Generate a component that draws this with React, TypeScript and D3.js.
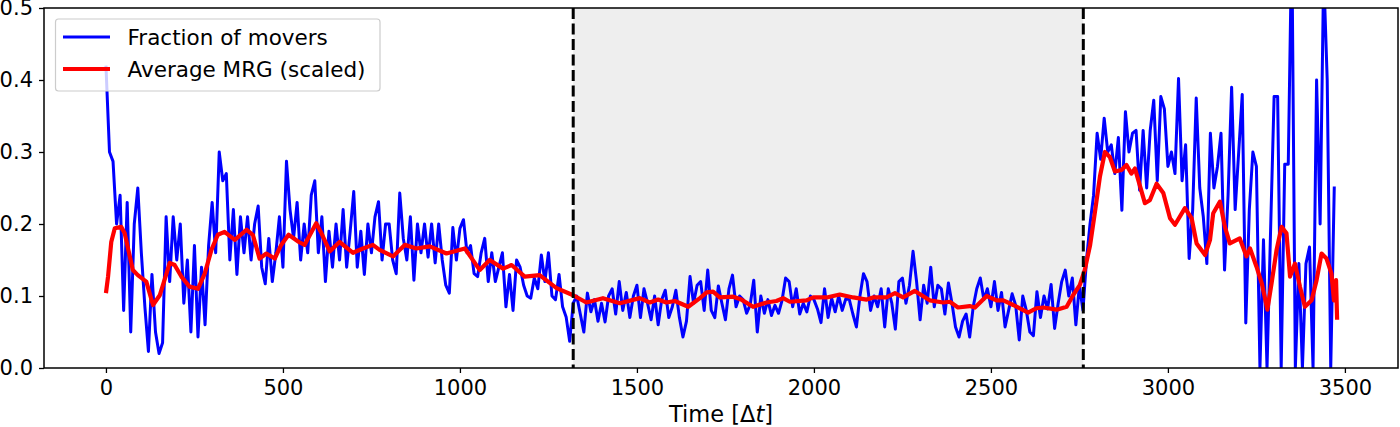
import React, { useEffect, useRef } from 'react';
import * as d3 from 'd3';

// fraction of movers, one value every 10 time steps
const moverStep = 10;
const movers: number[] = [
  0.42, 0.30, 0.287, 0.20, 0.24, 0.08, 0.23, 0.05, 0.20, 0.25,
  0.16, 0.085, 0.023, 0.13, 0.05, 0.02, 0.035, 0.21, 0.12, 0.21,
  0.15, 0.20, 0.09, 0.15, 0.05, 0.17, 0.043, 0.14, 0.06, 0.17,
  0.23, 0.16, 0.30, 0.26, 0.27, 0.15, 0.22, 0.13, 0.21, 0.16,
  0.21, 0.15, 0.20, 0.225, 0.14, 0.117, 0.18, 0.12, 0.16, 0.21,
  0.14, 0.287, 0.22, 0.18, 0.23, 0.15, 0.20, 0.16, 0.24, 0.26,
  0.16, 0.21, 0.12, 0.19, 0.14, 0.20, 0.15, 0.22, 0.14, 0.19,
  0.245, 0.14, 0.19, 0.13, 0.20, 0.16, 0.21, 0.231, 0.15, 0.20,
  0.20, 0.15, 0.131, 0.243, 0.18, 0.15, 0.21, 0.122, 0.20, 0.16,
  0.20, 0.154, 0.20, 0.146, 0.20, 0.15, 0.115, 0.104, 0.195, 0.15,
  0.194, 0.206, 0.16, 0.17, 0.131, 0.127, 0.16, 0.18, 0.12, 0.16,
  0.12, 0.14, 0.16, 0.085, 0.13, 0.08, 0.15, 0.14, 0.115, 0.10,
  0.097, 0.125, 0.11, 0.157, 0.12, 0.16, 0.10, 0.095, 0.13, 0.085,
  0.071, 0.037, 0.09, 0.10, 0.075, 0.05, 0.104, 0.078, 0.095, 0.065,
  0.09, 0.064, 0.10, 0.11, 0.075, 0.12, 0.08, 0.105, 0.07, 0.10,
  0.115, 0.07, 0.11, 0.09, 0.067, 0.10, 0.06, 0.095, 0.108, 0.07,
  0.085, 0.108, 0.07, 0.043, 0.065, 0.127, 0.09, 0.115, 0.12, 0.08,
  0.136, 0.08, 0.07, 0.114, 0.09, 0.067, 0.11, 0.129, 0.085, 0.10,
  0.095, 0.076, 0.088, 0.122, 0.05, 0.10, 0.076, 0.095, 0.073, 0.087,
  0.076, 0.094, 0.125, 0.12, 0.085, 0.11, 0.075, 0.09, 0.078, 0.10,
  0.095, 0.082, 0.063, 0.11, 0.07, 0.097, 0.078, 0.10, 0.08, 0.096,
  0.095, 0.075, 0.057, 0.10, 0.131, 0.12, 0.08, 0.10, 0.085, 0.11,
  0.057, 0.11, 0.09, 0.054, 0.12, 0.125, 0.09, 0.115, 0.162, 0.12,
  0.067, 0.115, 0.09, 0.14, 0.085, 0.115, 0.11, 0.075, 0.118, 0.09,
  0.057, 0.043, 0.065, 0.075, 0.043, 0.085, 0.11, 0.125, 0.095, 0.11,
  0.085, 0.12, 0.08, 0.105, 0.057, 0.08, 0.103, 0.087, 0.039, 0.10,
  0.08, 0.05, 0.045, 0.106, 0.07, 0.10, 0.082, 0.116, 0.055, 0.09,
  0.12, 0.136, 0.10, 0.125, 0.06, 0.115, 0.08, 0.15, 0.20, 0.24,
  0.326, 0.29, 0.347, 0.30, 0.31, 0.27, 0.32, 0.219, 0.356, 0.30,
  0.326, 0.33, 0.247, 0.33, 0.25, 0.33, 0.372, 0.26, 0.377, 0.36,
  0.28, 0.30, 0.27, 0.402, 0.26, 0.31, 0.152, 0.22, 0.375, 0.25,
  0.21, 0.145, 0.326, 0.25, 0.28, 0.326, 0.136, 0.24, 0.39, 0.22,
  0.30, 0.38, 0.0625, 0.22, 0.30, 0.28, 0.0, 0.178, 0.0, 0.19,
  0.377, 0.377, 0.0, 0.283, 0.283, 0.6, 0.0, 0.145, 0.0, 0.145,
  0.168, 0.0, 0.40, 0.20, 0.55, 0.40, 0.0, 0.252,
];

// average MRG (scaled), smooth curve
const mrgTime: number[] = [
  0, 6, 15, 25, 43, 53, 76, 90, 114, 133, 152, 171, 180, 194, 213, 236, 260, 279, 298, 316,
  335, 364, 397, 415, 434, 453, 477, 494, 516, 545, 561, 594, 609, 632, 660, 698, 726, 754, 773, 811,
  844, 877, 915, 962, 1014, 1056, 1084, 1122, 1146, 1183, 1225, 1273, 1320, 1357, 1404, 1452, 1508, 1536, 1560, 1583,
  1607, 1645, 1678, 1697, 1715, 1734, 1772, 1795, 1828, 1866, 1894, 1913, 1932, 1979, 1998, 2036, 2073, 2111, 2149, 2167,
  2205, 2229, 2252, 2285, 2327, 2365, 2384, 2407, 2440, 2455, 2488, 2516, 2535, 2563, 2605, 2629, 2648, 2686, 2714, 2732,
  2751, 2765, 2780, 2794, 2808, 2822, 2836, 2850, 2869, 2883, 2897, 2907, 2935, 2949, 2968, 2987, 3006, 3020, 3048, 3067,
  3081, 3105, 3119, 3128, 3147, 3161, 3175, 3203, 3222, 3232, 3250, 3265, 3281, 3293, 3307, 3321, 3335, 3345, 3359, 3373,
  3387, 3406, 3420, 3434, 3448, 3462, 3469, 3475, 3478,
];
const mrgValue: number[] = [
  0.104, 0.127, 0.175, 0.194, 0.196, 0.187, 0.136, 0.129, 0.12, 0.0875, 0.101, 0.131, 0.146, 0.143, 0.127, 0.113, 0.110, 0.131, 0.164, 0.185,
  0.189, 0.178, 0.192, 0.185, 0.152, 0.159, 0.152, 0.170, 0.185, 0.175, 0.171, 0.201, 0.187, 0.162, 0.175, 0.160, 0.166, 0.171, 0.164, 0.155,
  0.171, 0.166, 0.169, 0.159, 0.166, 0.136, 0.150, 0.138, 0.143, 0.127, 0.129, 0.111, 0.101, 0.091, 0.097, 0.090, 0.097, 0.091, 0.095, 0.091,
  0.093, 0.085, 0.097, 0.105, 0.106, 0.098, 0.099, 0.095, 0.085, 0.091, 0.093, 0.097, 0.092, 0.094, 0.098, 0.098, 0.102, 0.098, 0.095, 0.098,
  0.098, 0.104, 0.098, 0.107, 0.094, 0.091, 0.092, 0.084, 0.086, 0.084, 0.100, 0.094, 0.094, 0.0875, 0.077, 0.083, 0.084, 0.081, 0.085, 0.101,
  0.115, 0.136, 0.170, 0.217, 0.266, 0.300, 0.293, 0.273, 0.275, 0.282, 0.270, 0.277, 0.229, 0.233, 0.256, 0.243, 0.208, 0.199, 0.222, 0.208,
  0.173, 0.157, 0.178, 0.215, 0.231, 0.196, 0.173, 0.180, 0.155, 0.166, 0.141, 0.118, 0.081, 0.118, 0.164, 0.196, 0.187, 0.127, 0.145, 0.113,
  0.085, 0.094, 0.122, 0.159, 0.152, 0.131, 0.094, 0.122, 0.067,
];

const shadedWindow = [1320, 2761];
const xTicks = [0, 500, 1000, 1500, 2000, 2500, 3000, 3500];
const yTicks = [0, 0.1, 0.2, 0.3, 0.4, 0.5];
const legendLabels = ['Fraction of movers', 'Average MRG (scaled)'];
const legendColors = ['#0000ff', '#ff0000'];

const FONT = 'DejaVu Sans, sans-serif';

function MoversChart() {
  const svgRef = useRef<SVGSVGElement>(null);

  useEffect(() => {
    const svg = d3.select(svgRef.current);
    svg.selectAll('*').remove();

    const width = 1400;
    const height = 427;
    const margin = { top: 8, right: 2, bottom: 59, left: 44 };

    svg.attr('width', width).attr('height', height);

    const x = d3.scaleLinear()
      .domain([-175, 3650])
      .range([margin.left, width - margin.right]);
    const y = d3.scaleLinear()
      .domain([0, 0.5])
      .range([height - margin.bottom, margin.top]);

    svg.append('defs').append('clipPath').attr('id', 'plot-clip')
      .append('rect')
      .attr('x', margin.left).attr('y', margin.top)
      .attr('width', width - margin.left - margin.right)
      .attr('height', height - margin.top - margin.bottom);

    const plot = svg.append('g').attr('clip-path', 'url(#plot-clip)');

    plot.append('rect')
      .attr('x', x(shadedWindow[0]))
      .attr('y', margin.top)
      .attr('width', x(shadedWindow[1]) - x(shadedWindow[0]))
      .attr('height', height - margin.top - margin.bottom)
      .attr('fill', '#eeeeee');

    const line = d3.line<[number, number]>()
      .x((d) => x(d[0]))
      .y((d) => y(d[1]));

    const moverPts: [number, number][] = movers.map((v, i) => [i * moverStep, v]);
    const mrgPts: [number, number][] = mrgTime.map((t, i) => [t, mrgValue[i]]);

    plot.append('path')
      .attr('d', line(moverPts))
      .attr('fill', 'none')
      .attr('stroke', legendColors[0])
      .attr('stroke-width', 3)
      .attr('stroke-linejoin', 'round');

    plot.append('path')
      .attr('d', line(mrgPts))
      .attr('fill', 'none')
      .attr('stroke', legendColors[1])
      .attr('stroke-width', 4.2)
      .attr('stroke-linejoin', 'round');

    shadedWindow.forEach((t) => {
      plot.append('line')
        .attr('x1', x(t)).attr('x2', x(t))
        .attr('y1', margin.top).attr('y2', height - margin.bottom)
        .attr('stroke', '#000')
        .attr('stroke-width', 3)
        .attr('stroke-dasharray', '11,4.5');
    });

    // axes
    const xAxis = svg.append('g')
      .attr('transform', `translate(0,${height - margin.bottom})`)
      .call(d3.axisBottom(x).tickValues(xTicks).tickSize(5).tickPadding(7).tickFormat(d3.format('d')));
    const yAxis = svg.append('g')
      .attr('transform', `translate(${margin.left},0)`)
      .call(d3.axisLeft(y).tickValues(yTicks).tickSize(5).tickPadding(6).tickFormat(d3.format('.1f')));

    [xAxis, yAxis].forEach((g) => {
      g.select('.domain').remove();
      g.selectAll('line').attr('stroke', '#000').attr('stroke-width', 1.3);
      g.selectAll('text')
        .attr('fill', '#000')
        .style('font-family', FONT)
        .style('font-size', '21px');
    });

    svg.append('rect')
      .attr('x', margin.left).attr('y', margin.top)
      .attr('width', width - margin.left - margin.right)
      .attr('height', height - margin.top - margin.bottom)
      .attr('fill', 'none')
      .attr('stroke', '#000')
      .attr('stroke-width', 1.5);

    const xl = svg.append('text')
      .attr('x', (margin.left + width - margin.right) / 2)
      .attr('y', 421.5)
      .attr('text-anchor', 'middle')
      .style('font-family', FONT)
      .style('font-size', '22.5px');
    xl.append('tspan').text('Time [Δ');
    xl.append('tspan').style('font-style', 'italic').text('t');
    xl.append('tspan').text(']');

    // legend
    const lg = svg.append('g');
    lg.append('rect')
      .attr('x', 55.5).attr('y', 19)
      .attr('width', 324.5).attr('height', 72)
      .attr('rx', 3)
      .attr('fill', '#fff').attr('fill-opacity', 0.8)
      .attr('stroke', '#cccccc').attr('stroke-width', 1.2);
    legendLabels.forEach((label, i) => {
      const cy = 37 + i * 32;
      lg.append('line')
        .attr('x1', 63).attr('x2', 110)
        .attr('y1', cy).attr('y2', cy)
        .attr('stroke', legendColors[i])
        .attr('stroke-width', i === 0 ? 3 : 4.2);
      lg.append('text')
        .attr('x', 127.5).attr('y', cy + 8)
        .style('font-family', FONT)
        .style('font-size', '21.5px')
        .attr('fill', '#000')
        .text(label);
    });
  }, []);

  return <svg ref={svgRef} style={{ position: 'absolute', left: 0, top: 0, display: 'block' }}></svg>;
}

export default function App() {
  return <MoversChart />;
}
